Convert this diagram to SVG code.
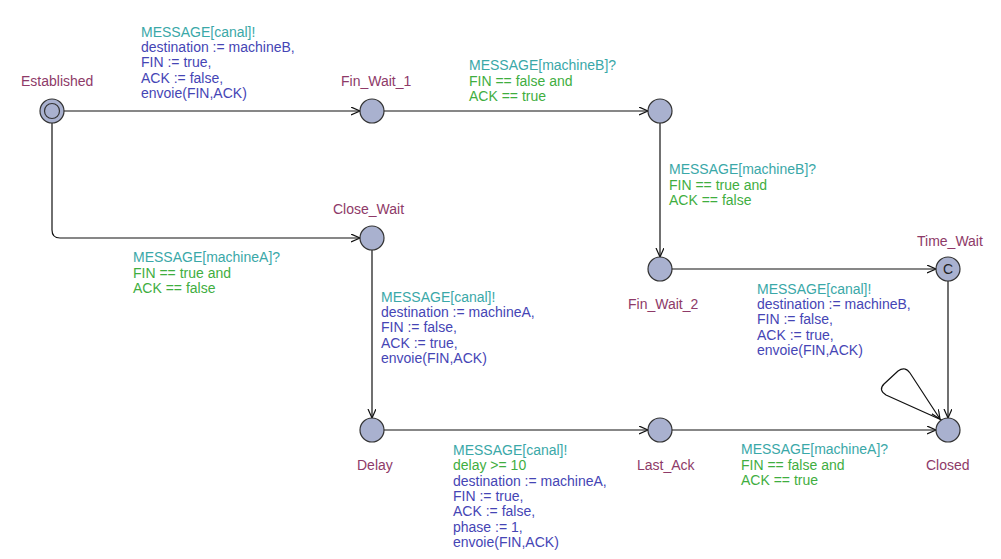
<svg xmlns="http://www.w3.org/2000/svg" width="1001" height="559" viewBox="0 0 1001 559">
<style>
text{font-family:"Liberation Sans",Arial,sans-serif;font-size:14px}
.nm{fill:#8e3a68}
.sy{fill:#3aa8a8}
.gu{fill:#3fae3f}
.up{fill:#4545b5}
.loc{fill:#a9b1cf;stroke:#333;stroke-width:1.2}
.e{fill:none;stroke:#111;stroke-width:1.2}
</style>
<defs>
<marker id="a" markerWidth="12" markerHeight="10" refX="9" refY="4" orient="auto" markerUnits="userSpaceOnUse">
<path d="M0,0 L9,4 L0,8" fill="none" stroke="#111" stroke-width="1.2"/>
</marker>
</defs>
<rect width="1001" height="559" fill="#fff"/>
<g id="edges">
<path class="e" d="M64,111 H360" marker-end="url(#a)"/>
<path class="e" d="M384,111 H648" marker-end="url(#a)"/>
<path class="e" d="M660,123 V257" marker-end="url(#a)"/>
<path class="e" d="M52,123 V230 Q52,238 60,238 H360" marker-end="url(#a)"/>
<path class="e" d="M372,250 V418" marker-end="url(#a)"/>
<path class="e" d="M672,269 H936" marker-end="url(#a)"/>
<path class="e" d="M948,281 V418" marker-end="url(#a)"/>
<path class="e" d="M384,430 H648" marker-end="url(#a)"/>
<path class="e" d="M672,430 H936" marker-end="url(#a)"/>
<path class="e" d="M946,422 L886,395 Q878,390 884,384 L898,371 Q905,366 910,373 L940,419" marker-end="url(#a)"/>
</g>
<g id="labels">
<text x="141" y="37"><tspan class="sy">MESSAGE[canal]!</tspan><tspan class="up" x="141" dy="15.2">destination := machineB,</tspan><tspan class="up" x="141" dy="15.2">FIN := true,</tspan><tspan class="up" x="141" dy="15.2">ACK := false,</tspan><tspan class="up" x="141" dy="15.2">envoie(FIN,ACK)</tspan></text>
<text x="469" y="70"><tspan class="sy">MESSAGE[machineB]?</tspan><tspan class="gu" x="469" dy="15.5">FIN == false and</tspan><tspan class="gu" x="469" dy="15.5">ACK == true</tspan></text>
<text x="669" y="174"><tspan class="sy">MESSAGE[machineB]?</tspan><tspan class="gu" x="669" dy="15.5">FIN == true and</tspan><tspan class="gu" x="669" dy="15.5">ACK == false</tspan></text>
<text x="133" y="262"><tspan class="sy">MESSAGE[machineA]?</tspan><tspan class="gu" x="133" dy="15.5">FIN == true and</tspan><tspan class="gu" x="133" dy="15.5">ACK == false</tspan></text>
<text x="381" y="302"><tspan class="sy">MESSAGE[canal]!</tspan><tspan class="up" x="381" dy="15.2">destination := machineA,</tspan><tspan class="up" x="381" dy="15.2">FIN := false,</tspan><tspan class="up" x="381" dy="15.2">ACK := true,</tspan><tspan class="up" x="381" dy="15.2">envoie(FIN,ACK)</tspan></text>
<text x="757" y="294"><tspan class="sy">MESSAGE[canal]!</tspan><tspan class="up" x="757" dy="15.2">destination := machineB,</tspan><tspan class="up" x="757" dy="15.2">FIN := false,</tspan><tspan class="up" x="757" dy="15.2">ACK := true,</tspan><tspan class="up" x="757" dy="15.2">envoie(FIN,ACK)</tspan></text>
<text x="453" y="455"><tspan class="sy">MESSAGE[canal]!</tspan><tspan class="gu" x="453" dy="15.3">delay &gt;= 10</tspan><tspan class="up" x="453" dy="15.3">destination := machineA,</tspan><tspan class="up" x="453" dy="15.3">FIN := true,</tspan><tspan class="up" x="453" dy="15.3">ACK := false,</tspan><tspan class="up" x="453" dy="15.3">phase := 1,</tspan><tspan class="up" x="453" dy="15.3">envoie(FIN,ACK)</tspan></text>
<text x="741" y="454"><tspan class="sy">MESSAGE[machineA]?</tspan><tspan class="gu" x="741" dy="15.5">FIN == false and</tspan><tspan class="gu" x="741" dy="15.5">ACK == true</tspan></text>
</g>
<g id="Established"><circle class="loc" cx="52" cy="111" r="12"/><circle cx="52" cy="111" r="7.5" fill="none" stroke="#333" stroke-width="1.2"/><text class="nm" x="21" y="86">Established</text></g>
<g id="Fin_Wait_1"><circle class="loc" cx="372" cy="111" r="12"/><text class="nm" x="341" y="86">Fin_Wait_1</text></g>
<g id="Fin_Wait_1b"><circle class="loc" cx="660" cy="111" r="12"/></g>
<g id="Close_Wait"><circle class="loc" cx="372" cy="238" r="12"/><text class="nm" x="333" y="214">Close_Wait</text></g>
<g id="Fin_Wait_2"><circle class="loc" cx="660" cy="269" r="12"/><text class="nm" x="628" y="309">Fin_Wait_2</text></g>
<g id="Time_Wait"><circle class="loc" cx="948" cy="269" r="12"/><text x="948" y="274" text-anchor="middle" fill="#222" style="font-size:14px">C</text><text class="nm" x="917" y="246">Time_Wait</text></g>
<g id="Delay"><circle class="loc" cx="372" cy="430" r="12"/><text class="nm" x="357" y="470">Delay</text></g>
<g id="Last_Ack"><circle class="loc" cx="660" cy="430" r="12"/><text class="nm" x="637" y="470">Last_Ack</text></g>
<g id="Closed"><circle class="loc" cx="948" cy="430" r="12"/><text class="nm" x="926" y="470">Closed</text></g>
</svg>
